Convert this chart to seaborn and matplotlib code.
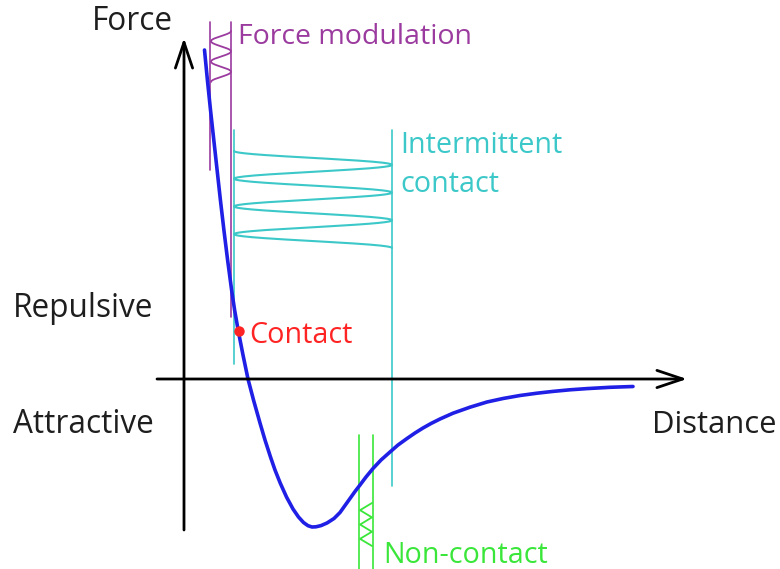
import numpy as np
import pandas as pd
import seaborn as sns
import matplotlib.pyplot as plt

# force-distance curve (pixel frame, y grows downward)
curve_x = [204.5, 207.4, 210.5, 213.8, 217.1, 220.4, 223.9, 227.6, 231.6, 234.6,
           238.3, 243.0, 248.0, 253.5, 260.0, 265.0, 270.5, 275.0, 280.2, 286.5,
           293.0, 298.5, 303.5, 308.0, 312.0, 316.0, 321.0, 327.0, 334.0, 340.0,
           345.0, 350.0, 355.0, 360.0, 366.0, 373.0, 381.0, 390.0, 398.0, 407.0,
           415.0, 423.0, 431.0, 440.0, 453.0, 470.0, 487.0, 503.0, 520.0, 537.0,
           553.0, 570.0, 587.0, 610.0, 633.0]
curve_y = [50, 80, 110, 140, 170, 200, 230, 260, 290, 310,
           331, 355, 379, 400, 423, 440, 457, 470, 483, 497,
           509, 517, 522.5, 525.7, 527, 526.8, 525.6, 523, 518.5, 512.5,
           505.5, 498.5, 491.5, 485, 477, 468.5, 460, 452, 445, 438.5,
           433, 428, 423.5, 419, 413.2, 407.2, 402, 398.5, 395.5, 393.2,
           391.4, 389.8, 388.6, 387.3, 386.5]

contact_pt = (239, 331)

# AFM mode guide lines: (x, y_top, y_bottom)
fm_lines = [(210, 22, 170), (231, 22, 317)]
ic_lines = [(234, 130, 364), (392, 130, 486)]
nc_lines = [(359, 435, 569), (373, 435, 569)]

labels = ['Force', 'Repulsive', 'Attractive', 'Distance']
mode_labels = ['Force modulation', 'Intermittent\ncontact', 'Contact', 'Non-contact']

BLUE = '#1f1fe6'
PURPLE = '#9b3b9f'
CYAN = '#3cc8c8'
GREEN = '#3ae63a'
RED = '#ff2424'
INK = '#1e1e1e'


def wave(start, end, y0, y1, cycles, zigzag=False):
    """ Tip oscillation drawn between two guide lines, starting at `start`. """
    t = np.linspace(0, 1, 600)
    ph = 2 * np.pi * cycles * t
    s = (2 / np.pi) * np.arcsin(np.cos(ph)) if zigzag else np.cos(ph)
    mid, amp = (start + end) / 2, (start - end) / 2
    return mid + amp * s, y0 + (y1 - y0) * t


sns.set_theme(style='white')
plt.rcParams['font.family'] = ['Open Sans', 'DejaVu Sans']

fig = plt.figure(figsize=(7.8, 5.69), dpi=100)
ax = fig.add_axes([0, 0, 1, 1])

# axes arrows
arrow = dict(arrowstyle='->,head_length=1.85,head_width=0.62', mutation_scale=10,
             lw=2.0, color='black', shrinkA=0, shrinkB=0)
ax.annotate('', xy=(184, 38), xytext=(184, 530), arrowprops=arrow)
ax.annotate('', xy=(687, 379), xytext=(157, 379), arrowprops=arrow)

# guide lines
for lines, col in [(fm_lines, PURPLE), (ic_lines, CYAN), (nc_lines, GREEN)]:
    for x, y0, y1 in lines:
        ax.plot([x, x], [y0, y1], color=col, lw=1.2)

# oscillations
ax.plot(*wave(231, 211, 31, 82, 2.5), color=PURPLE, lw=1.3)
ax.plot(*wave(234, 392, 151, 248, 3.5), color=CYAN, lw=1.5)
ax.plot(*wave(372, 360, 503, 546, 3, zigzag=True), color=GREEN, lw=1.3)

# main curve
df = pd.DataFrame({'x': curve_x, 'y': curve_y})
sns.lineplot(data=df, x='x', y='y', sort=False, estimator=None, color=BLUE, lw=2.6, ax=ax)
ax.lines[-1].set_solid_joinstyle('round')
ax.plot(*contact_pt, 'o', color=RED, ms=7.5, mec='none')

ax.set_xlim(0, 780)
ax.set_ylim(569, 0)
ax.axis('off')

# text
ax.text(92, 30, labels[0], color=INK, fontsize=22.7, va='baseline')
ax.text(13, 317, labels[1], color=INK, fontsize=22.7, va='baseline')
ax.text(13, 433, labels[2], color=INK, fontsize=22.7, va='baseline')
ax.text(652, 433, labels[3], color=INK, fontsize=22.3, va='baseline')
ax.text(238, 44, mode_labels[0], color=PURPLE, fontsize=20.5, va='baseline')
for i, part in enumerate(mode_labels[1].split('\n')):
    ax.text(400, 153 + 39 * i, part, color=CYAN, fontsize=20.7, va='baseline')
ax.text(249, 343, mode_labels[2], color=RED, fontsize=20.7, va='baseline')
ax.text(383, 563, mode_labels[3], color=GREEN, fontsize=20.7, va='baseline')

fig.savefig('out.png', dpi=100)
